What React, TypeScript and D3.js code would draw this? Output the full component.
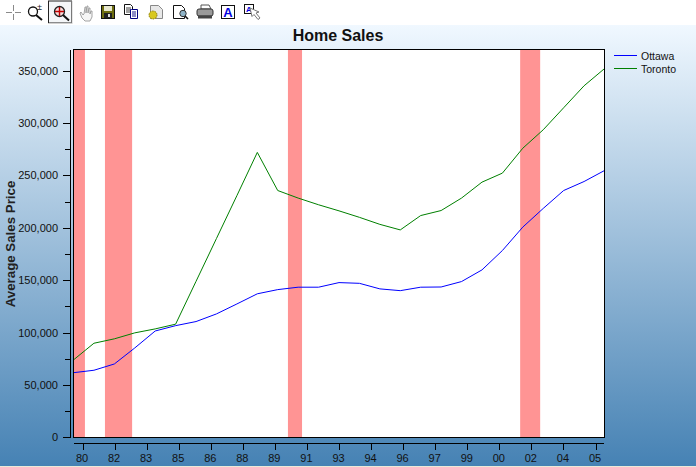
import React from "react";
import * as d3 from "d3";

const W = 696, H = 467;
const years = [1980,1981,1982,1983,1984,1985,1986,1987,1988,1989,1990,1991,1992,1993,1994,1995,1996,1997,1998,1999,2000,2001,2002,2003,2004,2005,2006];
const ottawa = [61700,64000,70000,85300,101500,106600,110500,117800,127300,137000,141000,143300,143300,147700,147000,141700,140000,143300,143500,148700,159800,178300,200700,218500,235600,244200,254700];
const toronto = [73900,89800,94000,99700,103500,108000,148900,189800,230700,272000,235600,228400,222000,216200,210000,203300,198000,211700,216500,228400,243600,252200,276000,293600,314600,335600,352000];
const bandStart = [1980, 1981.54, 1990.5, 2001.87];
const bandEnd = [1980.56, 1982.87, 1991.19, 2002.85];
const xLabels = ["80","82","83","85","86","88","89","91","93","94","96","97","99","00","02","04","05"];
const yMajor = [0,50000,100000,150000,200000,250000,300000,350000];
const yMinor = [25000,75000,125000,175000,225000,275000,325000];

const plot = { l: 73.5, r: 604.5, t: 49.5, b: 437.5 };
const x = d3.scaleLinear().domain([1980, 2006]).range([plot.l, plot.r]);
const y = d3.scaleLinear().domain([0, 350000]).range([437.3, 70.7]);
const xTick = d3.scalePoint<string>().domain(xLabels).range([83, 596]);
const line = d3.line<number>().x((_, i) => x(years[i])).y((d) => y(d));
const FONT = "'Liberation Sans', Arial, sans-serif";

const Icons = () => (
  <g>
    <g stroke="#8a8a8a" strokeWidth={1} fill="none" shapeRendering="crispEdges">
      <path d="M6 12.5h6M15 12.5h6M13.5 5v6M13.5 14v6" />
    </g>
    <circle cx={33} cy={11.5} r={4.5} fill="#fff" stroke="#111" strokeWidth={1.3} />
    <path d="M36 15l6 5" stroke="#111" strokeWidth={2} />
    <text x={37} y={10} fontSize={9} fontFamily={FONT} fill="#222">±</text>
    <rect x={48.5} y={1} width={23} height={22} fill="#f4f6f8" stroke="#222" strokeWidth={1} />
    <path d="M48 23.5h24M72 1v23" stroke="#d0d0d0" strokeWidth={1} />
    <circle cx={59.5} cy={11.5} r={5} fill="#f4dcdc" stroke="#222" strokeWidth={1.3} />
    <path d="M55 11.5h9M59.5 7v9" stroke="#c00000" strokeWidth={1.4} />
    <path d="M63 15l6 5.5" stroke="#111" strokeWidth={2} />
    <path d="M80 13l2 5 3 3h5l2-4v-6l-1 0-1 3v-6l-1 0-1 5v-7l-1 0-1 7v-6l-1 0-1 7-1 1-2-3z" fill="#f6f6f6" stroke="#9a9a9a" strokeWidth={0.9} />
    <rect x={101.5} y={5.5} width={13} height={13} fill="#6e6e10" stroke="#111" />
    <rect x={104} y={6} width={8} height={5} fill="#e8e8d0" />
    <rect x={104} y={13} width={8} height={5} fill="#222" />
    <rect x={108} y={14} width={2} height={3} fill="#ddd" />
    <path d="M124.5 4.5h6l2 2v8h-8z" fill="#fff" stroke="#111" />
    <path d="M126 8h5M126 10h5M126 12h5" stroke="#111" strokeWidth={0.8} />
    <path d="M131.5 9.5h6v9h-7v-9z" fill="#fff" stroke="#000080" />
    <path d="M132 12h4M132 14h4M132 16h4" stroke="#000080" strokeWidth={0.9} />
    <path d="M150.5 5.5h8l4 4v9h-12z" fill="#e8e8e8" stroke="#888" />
    <circle cx={153} cy={15} r={4} fill="#d8c820" stroke="#8a7a10" strokeDasharray="1.5 1" />
    <path d="M173.5 5.5h8l3 3v10h-11z" fill="#fff" stroke="#111" />
    <circle cx={183} cy={13.5} r={3.2} fill="#8fb4c8" stroke="#333" />
    <path d="M185 16l3 3" stroke="#111" strokeWidth={1.6} />
    <path d="M201 5h8l2 4h-10z" fill="#fff" stroke="#555" />
    <rect x={197} y={9} width={16} height={7} rx={2} fill="#9a9a9a" stroke="#333" />
    <rect x={198} y={15.5} width={14} height={3} fill="#444" />
    <rect x={221.5} y={5.5} width={13} height={13} fill="#fff" stroke="#111" />
    <text x={228} y={16.5} textAnchor="middle" fontSize={13} fontWeight="bold" fontFamily={FONT} fill="#0000e0">A</text>
    <rect x={244.5} y={4.5} width={9} height={9} fill="#fff" stroke="#111" />
    <text x={249} y={12} textAnchor="middle" fontSize={8} fontWeight="bold" fontFamily={FONT} fill="#0000e0">A</text>
    <path d="M250 8l9 4-3 1 4 5-2 1.5-4-5-2 2z" fill="#fff" stroke="#777" />
  </g>
);

export default function App() {
  return (
    <svg width={W} height={H} style={{ position: "fixed", left: 0, top: 0, display: "block" }}>
      <defs>
        <linearGradient id="bg" x1="0" y1="0" x2="0" y2="1">
          <stop offset="0" stopColor="#f0f8ff" />
          <stop offset="1" stopColor="#4682b4" />
        </linearGradient>
      </defs>
      <rect width={W} height={H} fill="#ffffff" />
      <rect y={25} width={W} height={441} fill="url(#bg)" />
      <rect y={466} width={W} height={1} fill="#ece9d8" />
      <Icons />

      <text x={338} y={41} textAnchor="middle" fontFamily={FONT} fontSize={16} fontWeight="bold" fill="#111">Home Sales</text>

      <rect x={plot.l} y={plot.t} width={plot.r - plot.l} height={plot.b - plot.t} fill="#fff" />
      {bandStart.map((s, i) => (
        <rect key={i} x={x(s)} y={plot.t} width={x(bandEnd[i]) - x(s)} height={plot.b - plot.t} fill="#ff9494" />
      ))}
      <path d={line(ottawa)!} fill="none" stroke="#0000ff" strokeWidth={1} />
      <path d={line(toronto)!} fill="none" stroke="#008000" strokeWidth={1} />
      <rect x={plot.l} y={plot.t} width={plot.r - plot.l} height={plot.b - plot.t} fill="none" stroke="#000" strokeWidth={1} />

      <g stroke="#000" strokeWidth={1} shapeRendering="crispEdges">
        <line x1={70} x2={70} y1={50} y2={438} />
        {yMajor.map((v) => <line key={v} x1={63} x2={70} y1={Math.round(y(v))} y2={Math.round(y(v))} />)}
        {yMinor.map((v) => <line key={v} x1={65} x2={70} y1={Math.round(y(v))} y2={Math.round(y(v))} />)}
      </g>
      {yMajor.map((v) => (
        <text key={v} x={58} y={y(v) + 4} textAnchor="end" fontFamily={FONT} fontSize={11} fill="#111">{d3.format(",")(v)}</text>
      ))}
      <text transform="translate(15,244) rotate(-90)" textAnchor="middle" fontFamily={FONT} fontSize={13.3} fontWeight="bold" fill="#222">Average Sales Price</text>

      <g stroke="#000" strokeWidth={1} shapeRendering="crispEdges">
        <line x1={74} x2={604} y1={443} y2={443} />
        {xLabels.map((l) => <line key={l} x1={xTick(l)} x2={xTick(l)} y1={443} y2={450} />)}
      </g>
      {xLabels.map((l) => (
        <text key={l} x={xTick(l)! - 1} y={462} textAnchor="middle" fontFamily={FONT} fontSize={11} fill="#111">{l}</text>
      ))}

      <line x1={614} x2={637} y1={55.5} y2={55.5} stroke="#0000ff" />
      <text x={641} y={60} fontFamily={FONT} fontSize={10.5} fill="#111">Ottawa</text>
      <line x1={614} x2={637} y1={68.5} y2={68.5} stroke="#008000" />
      <text x={641} y={73} fontFamily={FONT} fontSize={10.5} fill="#111">Toronto</text>
    </svg>
  );
}
